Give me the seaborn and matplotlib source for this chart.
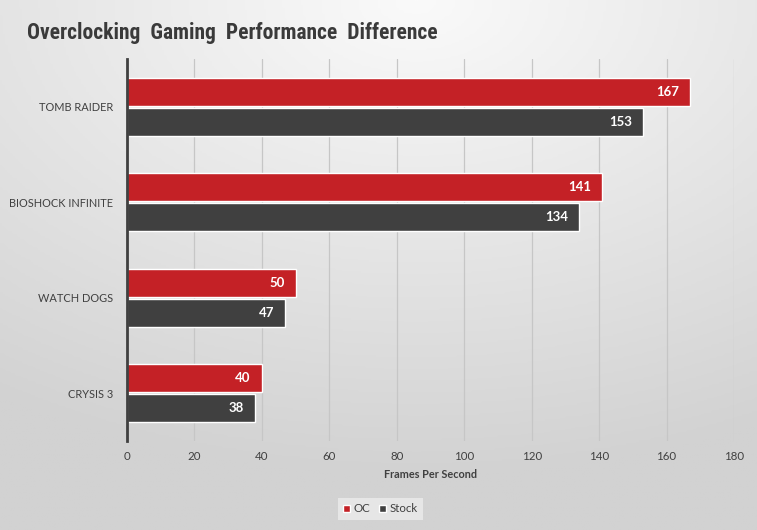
import matplotlib
matplotlib.use("Agg")
import matplotlib.pyplot as plt
import seaborn as sns
import numpy as np
import pandas as pd

sns.set_style("white")
plt.rcParams['font.family'] = ['Lato', 'DejaVu Sans']

# --- data ---
games = ["TOMB RAIDER", "BIOSHOCK INFINITE", "WATCH DOGS", "CRYSIS 3"]
oc_fps = [167, 141, 50, 40]
stock_fps = [153, 134, 47, 38]
series = ["OC", "Stock"]

OC_RED = "#C42126"
STOCK_GRAY = "#404040"
TEXT = "#404040"

df = pd.DataFrame({
    "game": games * 2,
    "fps": oc_fps + stock_fps,
    "series": ["OC"] * len(games) + ["Stock"] * len(games),
})

fig = plt.figure(figsize=(7.57, 5.3), dpi=100)

# background gradient (light top centre, grey edges)
bg = fig.add_axes([0, 0, 1, 1], zorder=-10)
yy, xx = np.mgrid[0:1:200j, 0:1:300j]
dist = np.sqrt(((xx - 0.55) / 1.0) ** 2 + ((yy - 0.0) / 0.9) ** 2)
bg.imshow(dist, cmap=matplotlib.colors.LinearSegmentedColormap.from_list(
    "bg", ["#fafafa", "#e6e6e6", "#d2d2d2"]), aspect="auto",
    extent=[0, 1, 0, 1], origin="upper", vmin=0, vmax=1.0)
bg.axis("off")

ax = fig.add_axes([127 / 757, 1 - 441 / 530, (734 - 127) / 757, (441 - 59) / 530])
ax.patch.set_alpha(0)

sns.barplot(data=df, y="game", x="fps", hue="series", order=games,
            hue_order=series, palette=[OC_RED, STOCK_GRAY], orient="h",
            width=0.63, gap=0.07, saturation=1, ax=ax, legend=True)

for cont in ax.containers:
    ax.bar_label(cont, padding=-8, label_type="edge", color="white",
                 fontsize=9.5, fontweight="bold")
# negative padding puts text inside the bar end; right-align it
for t in ax.texts:
    t.set_horizontalalignment("right")

ax.set_xlim(0, 180)
ax.set_xticks(range(0, 181, 20))
ax.set_ylim(len(games) - 0.5, -0.5)
ax.grid(axis="x", color="#c6c6c6", linewidth=0.9)
ax.set_axisbelow(True)
for s in ["top", "right", "bottom"]:
    ax.spines[s].set_visible(False)
ax.spines["left"].set_color(STOCK_GRAY)
ax.spines["left"].set_linewidth(2)
ax.tick_params(axis="both", length=0, colors=TEXT)
ax.tick_params(axis="y", pad=10, labelsize=7.9)
ax.tick_params(axis="x", pad=7, labelsize=8.3)
ax.set_ylabel("")
ax.set_xlabel("Frames Per Second", fontsize=7.8, fontweight="bold", color=TEXT, labelpad=5)

leg = ax.legend(loc="center", bbox_to_anchor=(0.417, -0.178), ncol=2,
                frameon=True, fontsize=8.3, handlelength=0.6, handleheight=0.6,
                handletextpad=0.3, columnspacing=0.8, borderpad=0.45)
leg.get_frame().set_facecolor("#e6e6e6")
leg.get_frame().set_edgecolor("none")
leg.get_frame().set_alpha(1)
leg.get_frame().set_boxstyle("square", pad=0)
for t in leg.get_texts():
    t.set_color(TEXT)

fig.text(27 / 757, 1 - 33 / 530, "Overclocking  Gaming  Performance  Difference",
         fontsize=15.5, fontweight="bold", color="#3a3a3a", va="center",
         family=["Roboto Condensed", "DejaVu Sans"], fontstretch="condensed")

fig.savefig("out.png", dpi=100)
